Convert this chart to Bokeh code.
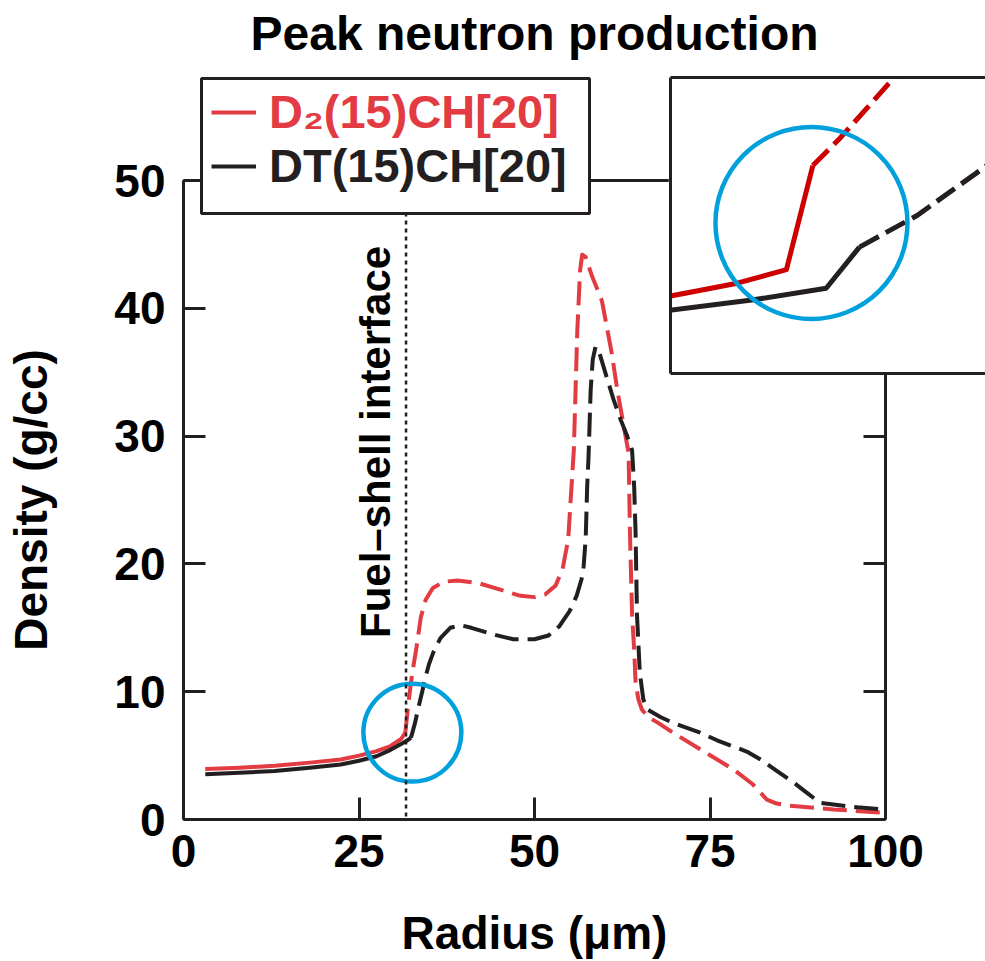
from bokeh.plotting import figure
from bokeh.models import Range1d, LinearAxis, FixedTicker, Legend, LegendItem, Span
from bokeh.core.properties import value
from bokeh.embed import file_html
from bokeh.resources import INLINE

# ---------------- data ----------------
x_ticks = [0, 25, 50, 75, 100]
y_ticks = [0, 10, 20, 30, 40, 50]

# D2(15)CH[20]: fuel (solid) and shell (dashed)
d2_fuel_r = [3.1, 8.0, 13.0, 18.0, 22.4, 25.0, 27.5, 29.5, 31.0, 31.6]
d2_fuel_rho = [3.95, 4.05, 4.2, 4.45, 4.7, 5.0, 5.35, 5.75, 6.3, 6.8]
d2_shell_r = [31.6, 32.1, 32.6, 33.2, 33.8, 34.5, 35.5, 37.0, 39.0, 42.0, 45.0, 48.0, 50.0,
              51.5, 53.0, 54.0, 54.8, 55.6, 56.1, 56.5, 56.8, 57.3, 58.2, 59.6, 61.0, 61.8,
              62.8, 63.4, 63.6, 63.9, 64.2, 64.4, 64.8, 65.3, 66.2, 67.5, 70.0, 73.6, 78.4,
              81.0, 83.1, 84.5, 86.0, 92.6, 99.3]
d2_shell_rho = [6.8, 9.4, 11.5, 13.5, 15.8, 17.2, 18.1, 18.6, 18.7, 18.5, 18.0, 17.5, 17.4,
                17.6, 18.3, 19.6, 21.9, 28.9, 38.3, 43.0, 44.2, 44.0, 42.5, 40.6, 36.5, 33.6,
                30.5, 28.7, 22.4, 16.0, 13.3, 10.7, 9.4, 8.6, 8.0, 7.6, 6.7, 5.5, 3.9,
                2.8, 1.56, 1.25, 1.1, 0.78, 0.55]

# DT(15)CH[20]
dt_fuel_r = [3.1, 8.0, 13.0, 18.0, 22.4, 25.0, 27.5, 29.5, 31.0, 31.9, 32.4]
dt_fuel_rho = [3.55, 3.65, 3.8, 4.05, 4.3, 4.6, 4.95, 5.45, 5.9, 6.2, 6.4]
dt_shell_r = [32.4, 33.0, 33.5, 34.0, 34.5, 35.0, 35.6, 36.6, 38.0, 39.5, 41.0, 44.0, 47.0,
              50.0, 52.0, 53.5, 55.0, 56.0, 56.7, 57.0, 57.3, 57.5, 57.7, 58.0, 58.3, 58.7,
              59.2, 60.4, 61.3, 62.3, 63.2, 63.9, 64.2, 64.4, 64.6, 65.0, 65.5, 66.1, 68.0,
              70.0, 73.6, 76.0, 78.4, 80.3, 82.2, 84.5, 86.9, 89.0, 90.7, 92.6, 96.0, 99.7]
dt_shell_rho = [6.4, 7.6, 8.85, 10.0, 11.2, 12.2, 13.1, 14.2, 15.0, 15.2, 15.0, 14.5, 14.1,
                14.1, 14.4, 15.1, 16.3, 17.5, 18.8, 19.8, 22.1, 26.0, 28.4, 33.6, 36.0, 37.0,
                36.6, 34.4, 32.8, 31.25, 30.0, 28.9, 26.0, 22.4, 16.0, 11.5, 9.4, 8.6, 8.0,
                7.5, 6.8, 6.2, 5.7, 5.3, 4.7, 3.8, 2.9, 2.0, 1.3, 1.17, 0.95, 0.78]

interface_r = 31.7
interface_label_y = 14.2
circle_r = [32.6]
circle_rho = [6.8]

# inset (schematic zoom of the circled region)
inset_d2_fuel_r = [22.0, 27.2, 30.78, 32.7]
inset_d2_fuel_rho = [3.85, 4.4, 4.94, 9.09]
inset_d2_shell_r = [32.7, 34.71, 38.47, 39.1]
inset_d2_shell_rho = [9.09, 10.2, 12.51, 12.88]
inset_dt_fuel_r = [22.0, 28.41, 33.67, 36.09]
inset_dt_fuel_rho = [3.3, 3.74, 4.2, 5.84]
inset_dt_shell_r = [36.09, 40.28, 45.25, 46.0]
inset_dt_shell_rho = [5.84, 7.1, 9.05, 9.5]

label_d2 = "D\u2082(15)CH[20]"
label_dt = "DT(15)CH[20]"

# ---------------- styles ----------------
RED = "#e23b42"
INSET_RED = "#cc0000"
BLACK = "#231f20"
BLUE = "#00a0dc"
FONT = "Liberation Sans"

p = figure(width=985, height=961, x_range=Range1d(0, 100), y_range=Range1d(0, 50),
           output_backend="svg", toolbar_location=None,
           min_border_left=183, min_border_right=100, min_border_top=180, min_border_bottom=141,
           x_axis_location=None, y_axis_location=None, title="Peak neutron production")
p.outline_line_color = None
p.grid.grid_line_color = None
p.background_fill_color = "white"
p.border_fill_color = "white"
p.title.align = "center"
p.title.vertical_align = "bottom"
p.title.text_font = FONT
p.title.text_font_size = "48px"
p.title.text_font_style = "bold"
p.title.text_color = "black"
p.title.standoff = 0


def style_axis(ax, labels=True):
    ax.axis_line_width = 3
    ax.axis_line_color = BLACK
    ax.major_tick_line_width = 3
    ax.major_tick_line_color = BLACK
    ax.major_tick_in = 22
    ax.major_tick_out = 0
    ax.minor_tick_line_color = None
    ax.major_label_text_font = FONT
    ax.major_label_text_font_style = "bold"
    ax.major_label_text_color = "black"
    ax.major_label_text_font_size = "46px"
    ax.axis_label_text_font = FONT
    ax.axis_label_text_font_style = "bold"
    ax.axis_label_text_font_size = "46px"
    ax.axis_label_text_color = "black"
    if not labels:
        ax.major_label_text_font_size = "0px"
        ax.major_label_text_color = None


xb = LinearAxis(ticker=FixedTicker(ticks=x_ticks), axis_label="Radius (\u03bcm)")
style_axis(xb)
xb.major_label_standoff = 15
xb.axis_label_standoff = 37
p.add_layout(xb, "below")

yl = LinearAxis(ticker=FixedTicker(ticks=y_ticks), axis_label="Density (g/cc)")
style_axis(yl)
yl.major_label_standoff = 18
yl.axis_label_standoff = 54
p.add_layout(yl, "left")

yr = LinearAxis(ticker=FixedTicker(ticks=y_ticks))
style_axis(yr, labels=False)
p.add_layout(yr, "right")

# top mirror axis; its blank, tiny axis label only reserves room so the title sits at the top
xa = LinearAxis(ticker=FixedTicker(ticks=x_ticks), axis_label=" ")
style_axis(xa, labels=False)
xa.axis_label_text_font_size = "2px"
xa.axis_label_standoff = 116
p.add_layout(xa, "above")

# curves
p.line(d2_fuel_r, d2_fuel_rho, line_color=RED, line_width=4, line_join="round")
p.line(d2_shell_r, d2_shell_rho, line_color=RED, line_width=4, line_dash="24 9", line_join="round")
p.line(dt_fuel_r, dt_fuel_rho, line_color=BLACK, line_width=4, line_join="round")
p.line(dt_shell_r, dt_shell_rho, line_color=BLACK, line_width=4, line_dash="24 9", line_join="round")

p.scatter(circle_r, circle_rho, marker="circle", size=98, fill_color=None,
          line_color=BLUE, line_width=4.5)

p.add_layout(Span(location=interface_r, dimension="height", line_color=BLACK,
                  line_width=2.5, line_dash="4 4"))
p.text(x=[interface_r - 4.3], y=[interface_label_y], text=["Fuel\u2013shell interface"],
       angle=90, angle_units="deg", text_font=value(FONT), text_font_size="42px",
       text_font_style="bold", text_color="black", text_align="left",
       text_baseline="middle")

# ---------------- legend (separate small figure laid over the main one) ----------------
lg = figure(width=392, height=139, x_range=Range1d(0, 1), y_range=Range1d(0, 1),
            output_backend="svg", toolbar_location=None,
            min_border_left=2, min_border_right=2, min_border_top=2, min_border_bottom=2,
            x_axis_location=None, y_axis_location=None)
lg.grid.grid_line_color = None
lg.outline_line_color = BLACK
lg.outline_line_width = 3
lg.background_fill_color = "white"
lg.border_fill_color = None
lg_d2 = lg.line(x=[-1.0], y=[-1.0], line_color=RED, line_width=4)
lg_dt = lg.line(x=[-1.0], y=[-1.0], line_color=BLACK, line_width=4)


def style_legend(leg, color):
    leg.glyph_width = 45
    leg.glyph_height = 20
    leg.label_standoff = 13
    leg.label_width = 300
    leg.label_height = 52
    leg.padding = 11
    leg.spacing = 0
    leg.margin = 0
    leg.label_text_font = FONT
    leg.label_text_font_size = "47px"
    leg.label_text_font_style = "bold"
    leg.label_text_baseline = "middle"
    leg.label_text_color = color
    leg.border_line_color = None
    leg.background_fill_alpha = 0


leg_d2 = Legend(items=[LegendItem(label=label_d2, renderers=[lg_d2])], location=(10, 74))
style_legend(leg_d2, RED)
leg_dt = Legend(items=[LegendItem(label=label_dt, renderers=[lg_dt])], location=(10, 20))
style_legend(leg_dt, BLACK)
lg.add_layout(leg_d2)
lg.add_layout(leg_dt)
lg.styles = {"position": "absolute", "left": "199px", "top": "76px", "z-index": "5"}

# ---------------- inset ----------------
inset = figure(width=317, height=300, x_range=Range1d(22.355, 45.25), y_range=Range1d(0.80, 12.60),
               output_backend="svg", toolbar_location=None,
               min_border_left=2, min_border_right=0, min_border_top=2, min_border_bottom=2,
               x_axis_location=None, y_axis_location=None)
inset.outline_line_color = None
inset.grid.grid_line_color = None
inset.background_fill_color = "white"
inset.border_fill_color = "white"
for side in ("left", "below", "above"):
    ax = LinearAxis(ticker=FixedTicker(ticks=[]))
    ax.axis_line_width = 3
    ax.axis_line_color = BLACK
    ax.major_tick_line_color = None
    ax.minor_tick_line_color = None
    ax.major_label_text_font_size = "0px"
    ax.major_label_text_color = None
    inset.add_layout(ax, side)

inset.line(inset_d2_fuel_r, inset_d2_fuel_rho, line_color=INSET_RED, line_width=5, line_join="round")
inset.line(inset_d2_shell_r, inset_d2_shell_rho, line_color=INSET_RED, line_width=5, line_dash="22 8")
inset.line(inset_dt_fuel_r, inset_dt_fuel_rho, line_color=BLACK, line_width=5, line_join="round")
inset.line(inset_dt_shell_r, inset_dt_shell_rho, line_color=BLACK, line_width=5, line_dash="22 8")
inset.scatter(circle_r, circle_rho, marker="circle", size=192, fill_color=None,
              line_color=BLUE, line_width=4.5)
inset.styles = {"position": "absolute", "left": "668px", "top": "75px", "z-index": "10"}

with open("out.html", "w", encoding="utf-8") as f:
    f.write(file_html([p, lg, inset], INLINE, title="Peak neutron production"))
